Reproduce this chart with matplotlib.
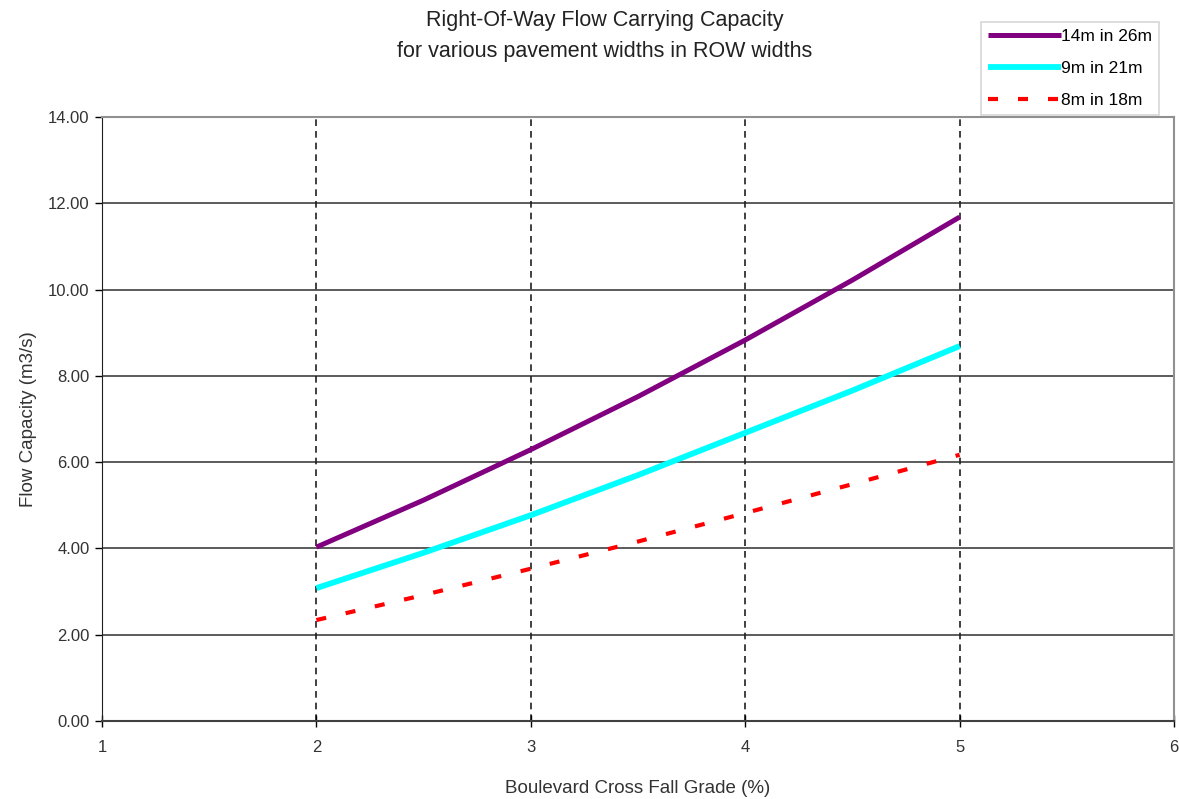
import numpy as np
import matplotlib
matplotlib.use('Agg')
import matplotlib.pyplot as plt
from matplotlib.ticker import FormatStrFormatter

plt.rcParams['font.family'] = ['Liberation Sans', 'DejaVu Sans']

grade = [2, 2.5, 3, 3.5, 4, 4.5, 5]
row_14_26 = [4.03, 5.12, 6.29, 7.52, 8.83, 10.22, 11.68]
row_9_21 = [3.08, 3.90, 4.77, 5.70, 6.68, 7.66, 8.69]
row_8_18 = [2.34, 2.92, 3.53, 4.16, 4.82, 5.49, 6.17]

fig = plt.figure(figsize=(11.79, 7.99), dpi=100)
ax = fig.add_axes([0.0865, 0.0976, 0.9093, 0.756])

ax.plot(grade, row_14_26, color='#800080', lw=3.6, label='14m in 26m', solid_capstyle='butt')
ax.plot(grade, row_9_21, color='#00FFFF', lw=4.2, label='9m in 21m', solid_capstyle='butt')
ax.plot(grade, row_8_18, color='#FF0000', lw=3, linestyle=(0, (2.4, 4.8)), label='8m in 18m')

ax.set_xlim(1, 6)
ax.set_ylim(0, 14)
ax.set_xticks([1, 2, 3, 4, 5, 6])
ax.set_yticks(np.arange(0, 15, 2))
ax.yaxis.set_major_formatter(FormatStrFormatter('%.2f'))

# excel style grid: solid horizontal, dashed vertical
for y in range(2, 14, 2):
    ax.axhline(y, color='#404040', lw=1.2, zorder=0)
for x in [2, 3, 4, 5]:
    ax.axvline(x, color='#202020', lw=1.2, linestyle=(0, (4, 3)), zorder=0)

ax.spines['left'].set_color('#202020')
ax.spines['bottom'].set_color('#404040')
ax.spines['bottom'].set_linewidth(1.5)
ax.spines['top'].set_color('#909090')
ax.spines['right'].set_color('#909090')
ax.spines['top'].set_linewidth(1.5)
ax.spines['right'].set_linewidth(1.5)

ax.tick_params(axis='x', direction='inout', length=8, width=1, labelsize=12,
               labelcolor='#333333', pad=10)
ax.tick_params(axis='y', direction='out', length=5, width=1, labelsize=12,
               labelcolor='#333333', pad=4)

ax.set_xlabel('Boulevard Cross Fall Grade (%)', fontsize=13.5, color='#333333', labelpad=18)
ax.set_ylabel('Flow Capacity (m3/s)', fontsize=13.5, color='#333333', labelpad=8)

fig.text(0.513, 0.974, 'Right-Of-Way Flow Carrying Capacity', ha='center', va='center',
         fontsize=15.5, color='#222222')
fig.text(0.513, 0.936, 'for various pavement widths in ROW widths', ha='center', va='center',
         fontsize=15.5, color='#222222')

leg = fig.legend(loc='upper right', bbox_to_anchor=(0.99, 0.983), fontsize=12.5,
                 handlelength=4.2, handletextpad=0.0, frameon=True, fancybox=False,
                 borderpad=0.4, labelspacing=0.95)
leg.get_frame().set_edgecolor('#cccccc')
leg.get_frame().set_linewidth(1.2)

fig.savefig('out.png', dpi=100)
